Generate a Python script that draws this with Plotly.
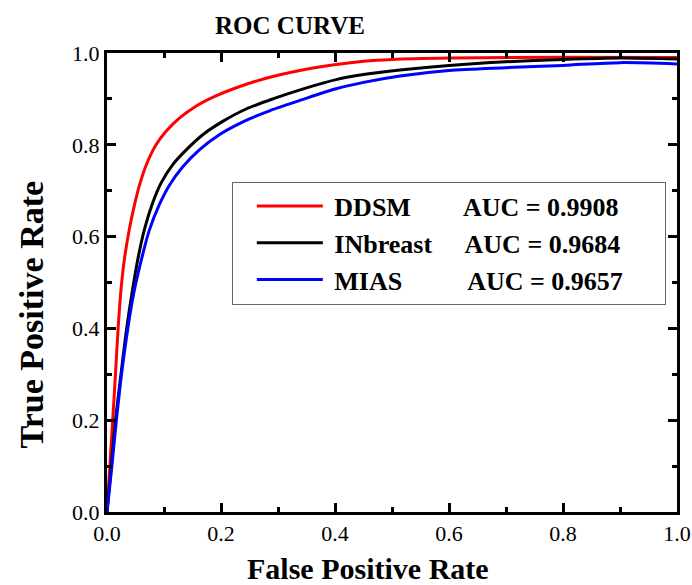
import plotly.graph_objects as go

# DDSM
fpr_ddsm = [0, 0.005, 0.010, 0.0148, 0.0195, 0.0235, 0.027, 0.031, 0.039, 0.048, 0.057, 0.0685,
            0.086, 0.104, 0.127, 0.156, 0.192, 0.233, 0.279, 0.338, 0.402, 0.45, 0.5, 0.6, 0.8, 1.0]
tpr_ddsm = [0, 0.1, 0.2, 0.3, 0.4, 0.47, 0.515, 0.555, 0.615, 0.668, 0.712, 0.755,
            0.80, 0.83, 0.858, 0.884, 0.907, 0.927, 0.945, 0.962, 0.975, 0.982, 0.986, 0.989, 0.991, 0.99]

# INbreast
fpr_inb = [0, 0.0075, 0.015, 0.0245, 0.0345, 0.043, 0.054, 0.0656, 0.080, 0.095, 0.1154, 0.139,
           0.168, 0.203, 0.244, 0.291, 0.350, 0.402, 0.45, 0.514, 0.6, 0.7, 0.8, 0.9, 1.0]
tpr_inb = [0, 0.1, 0.2, 0.3, 0.4, 0.47, 0.55, 0.615, 0.673, 0.717, 0.757, 0.789,
           0.822, 0.851, 0.878, 0.900, 0.924, 0.942, 0.953, 0.963, 0.973, 0.981, 0.986, 0.989, 0.987]

# MIAS
fpr_mias = [0, 0.0085, 0.0165, 0.0255, 0.0365, 0.047, 0.060, 0.074, 0.092, 0.1095, 0.133, 0.162,
            0.197, 0.2385, 0.285, 0.344, 0.402, 0.45, 0.514, 0.6, 0.7, 0.8, 0.9, 1.0]
tpr_mias = [0, 0.1, 0.2, 0.3, 0.4, 0.477, 0.548, 0.613, 0.670, 0.712, 0.752, 0.789,
            0.822, 0.850, 0.874, 0.899, 0.922, 0.936, 0.950, 0.962, 0.968, 0.973, 0.979, 0.976]

names = ["DDSM", "INbreast", "MIAS"]
aucs = ["AUC = 0.9908", "AUC = 0.9684", "AUC = 0.9657"]
colors = ["#ff0000", "#000000", "#0000ff"]

NB = "\u00a0"
SERIF = "Liberation Serif, Times New Roman, serif"
gaps = [8, 5, 10]
trail = [0, 6, 0]

fig = go.Figure()
for xs, ys, n, a, g, t, c in zip([fpr_ddsm, fpr_inb, fpr_mias], [tpr_ddsm, tpr_inb, tpr_mias],
                                 names, aucs, gaps, trail, colors):
    label = f"<b>{NB}{n}{NB * g}{a}{NB * t}</b>"
    fig.add_trace(go.Scatter(x=xs, y=ys, mode="lines", name=label,
                             line=dict(color=c, width=3, shape="spline", smoothing=0.8)))

axis_common = dict(
    range=[0, 1], showline=True, linewidth=3, linecolor="black", mirror="ticks",
    ticks="inside", ticklen=9, tickwidth=3, tickcolor="black", dtick=0.2, tick0=0,
    tickformat=".1f", showgrid=False, zeroline=False, automargin=False,
    tickfont=dict(family=SERIF, size=22, color="black"),
    minor=dict(ticks="inside", ticklen=5, tickwidth=3, tickcolor="black", dtick=0.1, showgrid=False),
)

fig.update_layout(
    width=692, height=585,
    margin=dict(l=107, r=15, t=53, b=73),
    plot_bgcolor="white", paper_bgcolor="white",
    title=dict(text="<b>ROC CURVE</b>", x=0.321, xref="paper", xanchor="center",
               y=1 - 25 / 585, yref="container", yanchor="middle",
               font=dict(family=SERIF, size=25, color="black")),
    xaxis=dict(**axis_common),
    yaxis=dict(**axis_common),
    legend=dict(x=0.219, y=0.72, xanchor="left", yanchor="top",
                bgcolor="white", bordercolor="#666666", borderwidth=1,
                font=dict(family=SERIF, size=26, color="black"),
                itemwidth=66, indentation=19),
    showlegend=True,
)

fig.add_annotation(text="<b>False Positive Rate</b>", xref="paper", yref="paper",
                   x=0.458, y=-0.124, xanchor="center", yanchor="middle", showarrow=False,
                   font=dict(family=SERIF, size=30, color="black"))
fig.add_annotation(text="<b>True Positive Rate</b>", xref="paper", yref="paper",
                   x=-0.132, y=0.43, xanchor="center", yanchor="middle", showarrow=False,
                   textangle=-90, font=dict(family=SERIF, size=34, color="black"))

fig.write_html("out.html", config={"displayModeBar": False},
               post_script="document.body.style.margin='0';")
